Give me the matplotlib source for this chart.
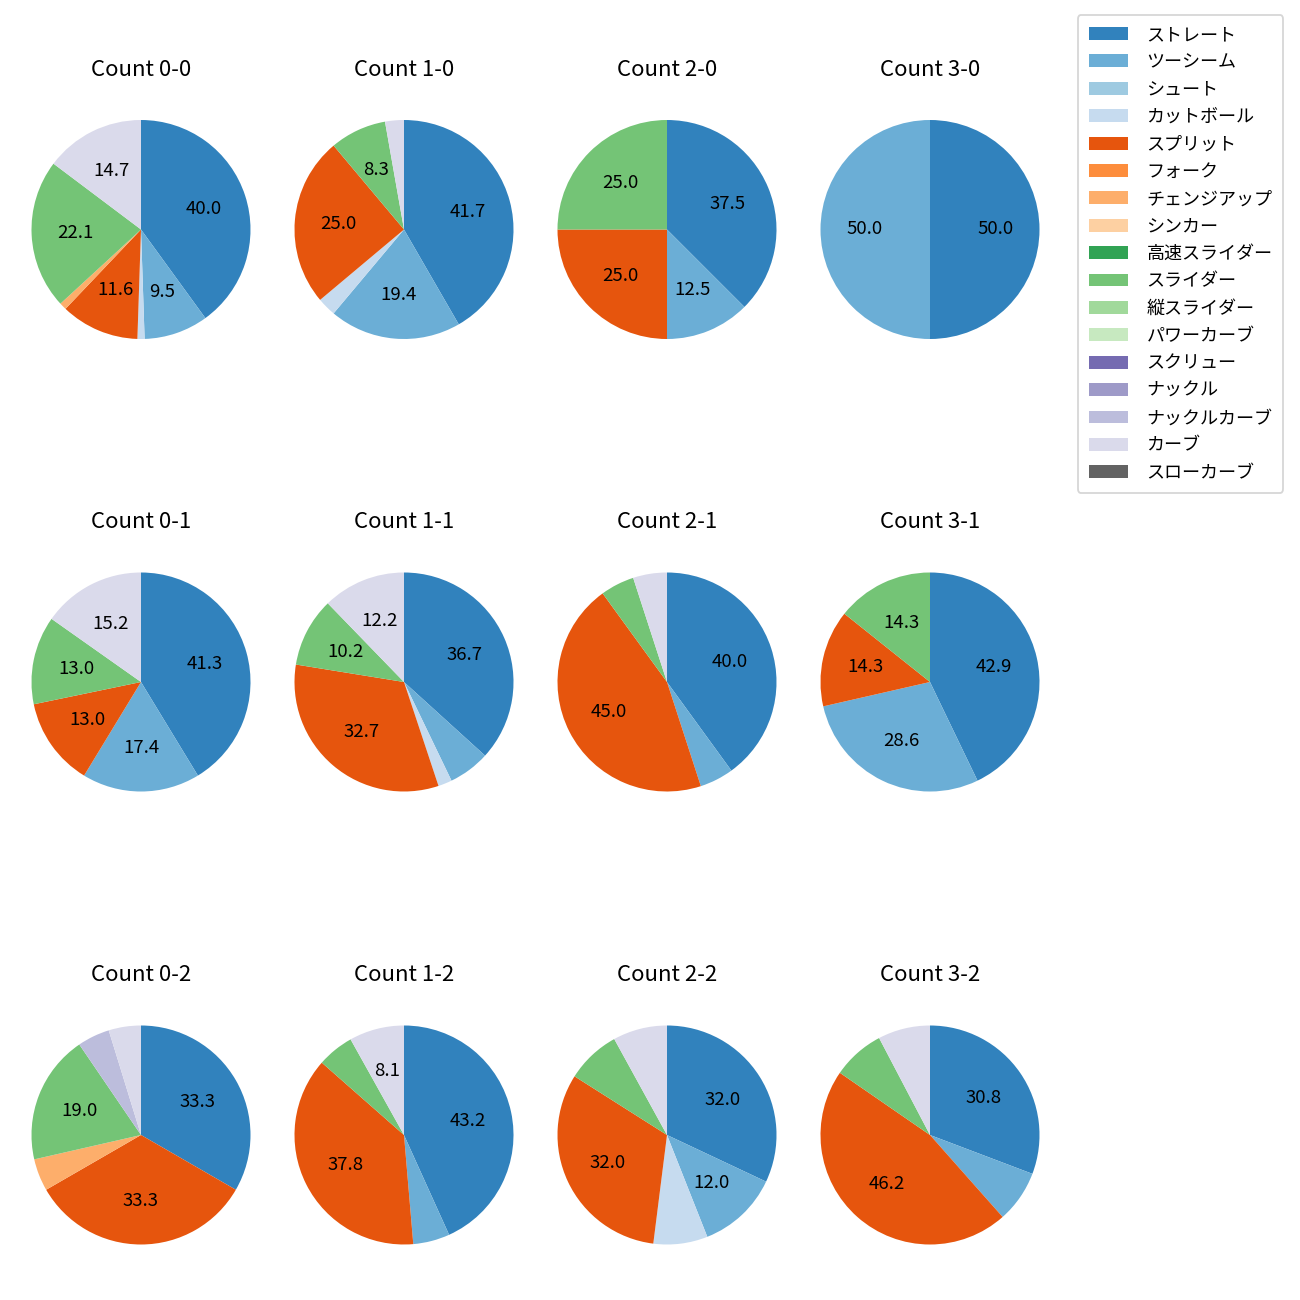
import matplotlib
matplotlib.use("Agg")
import matplotlib.pyplot as plt
from matplotlib.patches import Patch
import numpy as np

plt.rcParams['font.family'] = ['Noto Sans CJK JP', 'DejaVu Sans']

pitch_types = ['ストレート', 'ツーシーム', 'シュート', 'カットボール', 'スプリット', 'フォーク',
               'チェンジアップ', 'シンカー', '高速スライダー', 'スライダー', '縦スライダー',
               'パワーカーブ', 'スクリュー', 'ナックル', 'ナックルカーブ', 'カーブ', 'スローカーブ']

counts = ['0-0', '1-0', '2-0', '3-0',
          '0-1', '1-1', '2-1', '3-1',
          '0-2', '1-2', '2-2', '3-2']

# pitch counts per ball-strike count (order follows pitch_types)
c_0_0 = {'ストレート': 38, 'ツーシーム': 9, 'カットボール': 1, 'スプリット': 11, 'チェンジアップ': 1, 'スライダー': 21, 'カーブ': 14}
c_1_0 = {'ストレート': 15, 'ツーシーム': 7, 'カットボール': 1, 'スプリット': 9, 'スライダー': 3, 'カーブ': 1}
c_2_0 = {'ストレート': 3, 'ツーシーム': 1, 'スプリット': 2, 'スライダー': 2}
c_3_0 = {'ストレート': 1, 'ツーシーム': 1}
c_0_1 = {'ストレート': 19, 'ツーシーム': 8, 'スプリット': 6, 'スライダー': 6, 'カーブ': 7}
c_1_1 = {'ストレート': 18, 'ツーシーム': 3, 'カットボール': 1, 'スプリット': 16, 'スライダー': 5, 'カーブ': 6}
c_2_1 = {'ストレート': 8, 'ツーシーム': 1, 'スプリット': 9, 'スライダー': 1, 'カーブ': 1}
c_3_1 = {'ストレート': 3, 'ツーシーム': 2, 'スプリット': 1, 'スライダー': 1}
c_0_2 = {'ストレート': 7, 'スプリット': 7, 'チェンジアップ': 1, 'スライダー': 4, 'ナックルカーブ': 1, 'カーブ': 1}
c_1_2 = {'ストレート': 16, 'ツーシーム': 2, 'スプリット': 14, 'スライダー': 2, 'カーブ': 3}
c_2_2 = {'ストレート': 8, 'ツーシーム': 3, 'カットボール': 2, 'スプリット': 8, 'スライダー': 2, 'カーブ': 2}
c_3_2 = {'ストレート': 4, 'ツーシーム': 1, 'スプリット': 6, 'スライダー': 1, 'カーブ': 1}

data = [c_0_0, c_1_0, c_2_0, c_3_0, c_0_1, c_1_1, c_2_1, c_3_1, c_0_2, c_1_2, c_2_2, c_3_2]

cmap = plt.get_cmap('tab20c')
colors = {p: cmap(i) for i, p in enumerate(pitch_types)}

W = H = 1300
fig = plt.figure(figsize=(10, 10), dpi=130)

R = 109.5
col_x = [141, 404, 667, 930]
row_y = [229.5, 682, 1135]
cell_w = 263.0
cell_h = 285.4

for i, (cnt, d) in enumerate(zip(counts, data)):
    r, c = divmod(i, 4)
    cx, cy = col_x[c], row_y[r]
    ax = fig.add_axes([(cx - cell_w / 2) / W, 1 - (cy + cell_h / 2) / H, cell_w / W, cell_h / H])
    labels = [p for p in pitch_types if d.get(p, 0) > 0]
    vals = [d[p] for p in labels]
    ax.pie(vals, colors=[colors[p] for p in labels], startangle=90, counterclock=False,
           autopct=lambda pct: f'{pct:.1f}' if pct > 8.05 else '', textprops={'fontsize': 10.3})
    ax.set_aspect('auto')
    ax.set_xlim(-cell_w / 2 / R, cell_w / 2 / R)
    ax.set_ylim(-cell_h / 2 / R, cell_h / 2 / R)
    ax.set_title(f'Count {cnt}', fontsize=12.3)

handles = [Patch(facecolor=colors[p], label=p) for p in pitch_types]
fig.legend(handles=handles, loc='upper right', bbox_to_anchor=(1283.3 / W, 1 - 15 / H),
           borderaxespad=0, fontsize=10, labelspacing=0.52, handlelength=2.15,
           handleheight=0.72, handletextpad=1.05, borderpad=0.6)

fig.savefig('out.png', dpi=130)
